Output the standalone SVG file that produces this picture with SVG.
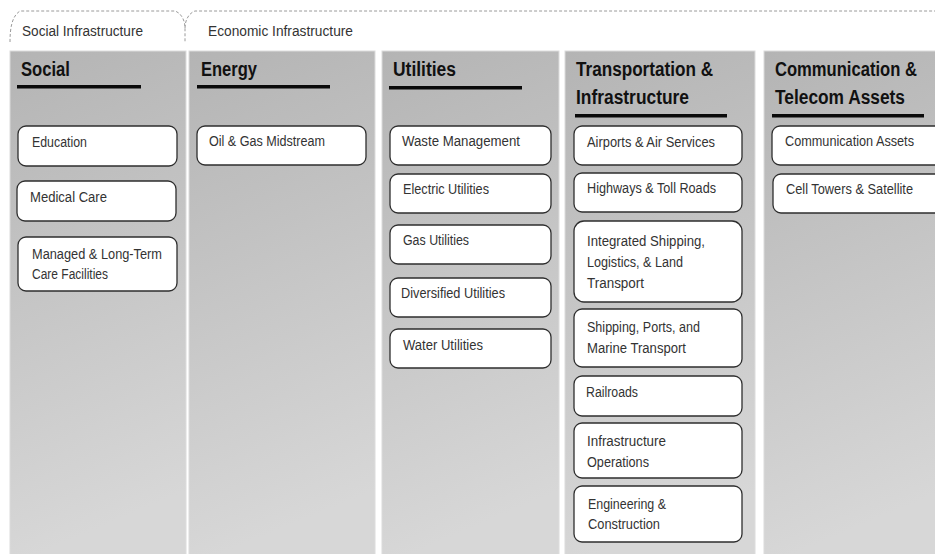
<svg xmlns="http://www.w3.org/2000/svg" width="935" height="554" viewBox="0 0 935 554">
  <defs>
    <linearGradient id="colFill" x1="0" y1="0" x2="0.15" y2="1">
      <stop offset="0" stop-color="#b4b4b4"/>
      <stop offset="1" stop-color="#d7d7d7"/>
    </linearGradient>
    <style>
      .col { fill: url(#colFill); stroke: #dcdcdc; stroke-width: 1; }
      .tab { fill: none; stroke: #9a9a9a; stroke-width: 1; stroke-dasharray: 3 2; }
      .tabtxt { font-family: "Liberation Sans Narrow", "Liberation Sans", Arial, sans-serif; font-size: 14px; fill: #333; }
      .head { font-family: "Liberation Sans Narrow", "Liberation Sans", Arial, sans-serif; font-size: 20px; font-weight: bold; fill: #111; }
      .bar { fill: #0a0a0a; }
      .box { fill: #ffffff; stroke: #2e2e2e; stroke-width: 1.3; }
      .lbl { font-family: "Liberation Sans Narrow", "Liberation Sans", Arial, sans-serif; font-size: 14px; fill: #333; }
    </style>
  </defs>

  <rect width="935" height="554" fill="#ffffff"/>

  <!-- dashed folder tabs along the top -->
  <g id="tabs">
    <path class="tab" d="M10,42 C10,28 12,16 20,11 L175,11 C181,13 185,20 185,28 L185,42"/>
    <path class="tab" d="M185,28 C185,20 189,13 195,11 L935,11"/>
    <text class="tabtxt" x="22" y="36" textLength="121" lengthAdjust="spacingAndGlyphs">Social Infrastructure</text>
    <text class="tabtxt" x="208" y="36" textLength="145" lengthAdjust="spacingAndGlyphs">Economic Infrastructure</text>
  </g>

  <!-- column panels -->
  <g id="col-social">
    <rect class="col" x="10" y="51" width="176" height="504"/>
    <text class="head" x="21" y="76" textLength="49" lengthAdjust="spacingAndGlyphs">Social</text>
    <rect class="bar" x="17" y="85" width="124" height="3.5"/>
  </g>
  <g id="col-energy">
    <rect class="col" x="189" y="51" width="186" height="504"/>
    <text class="head" x="201" y="76" textLength="56" lengthAdjust="spacingAndGlyphs">Energy</text>
    <rect class="bar" x="197" y="85" width="133" height="3.5"/>
  </g>
  <g id="col-utilities">
    <rect class="col" x="382" y="51" width="177" height="504"/>
    <text class="head" x="393" y="76" textLength="63" lengthAdjust="spacingAndGlyphs">Utilities</text>
    <rect class="bar" x="389" y="86" width="133" height="3.5"/>
  </g>
  <g id="col-transport">
    <rect class="col" x="565" y="51" width="190" height="504"/>
    <text class="head" x="576" y="76" textLength="137" lengthAdjust="spacingAndGlyphs">Transportation &amp;</text>
    <text class="head" x="576" y="104" textLength="113" lengthAdjust="spacingAndGlyphs">Infrastructure</text>
    <rect class="bar" x="575" y="114" width="152" height="3.5"/>
  </g>
  <g id="col-telecom">
    <rect class="col" x="764" y="51" width="180" height="504"/>
    <!-- condensed horizontally so the heading stays inside the canvas -->
    <text class="head" transform="translate(775 76) scale(0.83 1)" x="0" y="0">Communication &amp;</text>
    <text class="head" x="775" y="104" textLength="130" lengthAdjust="spacingAndGlyphs">Telecom Assets</text>
    <rect class="bar" x="772" y="114" width="152" height="3.5"/>
  </g>

  <!-- Social -->
  <g id="n-education">
    <rect class="box" x="18" y="126" width="159" height="40" rx="8"/>
    <text class="lbl" x="32" y="147" textLength="55" lengthAdjust="spacingAndGlyphs">Education</text>
  </g>
  <g id="n-medical">
    <rect class="box" x="17" y="181" width="159" height="40" rx="8"/>
    <text class="lbl" x="30" y="202" textLength="77" lengthAdjust="spacingAndGlyphs">Medical Care</text>
  </g>
  <g id="n-managed">
    <rect class="box" x="18" y="237" width="159" height="54" rx="8"/>
    <text class="lbl" x="32" y="259" textLength="130" lengthAdjust="spacingAndGlyphs">Managed &amp; Long-Term</text>
    <text class="lbl" x="32" y="279" textLength="76" lengthAdjust="spacingAndGlyphs">Care Facilities</text>
  </g>

  <!-- Energy -->
  <g id="n-midstream">
    <rect class="box" x="197" y="126" width="169" height="39" rx="8"/>
    <text class="lbl" x="209" y="146" textLength="116" lengthAdjust="spacingAndGlyphs">Oil &amp; Gas Midstream</text>
  </g>

  <!-- Utilities -->
  <g id="n-waste">
    <rect class="box" x="390" y="126" width="161" height="39" rx="8"/>
    <text class="lbl" x="402" y="146" textLength="118" lengthAdjust="spacingAndGlyphs">Waste Management</text>
  </g>
  <g id="n-electric">
    <rect class="box" x="390" y="174" width="161" height="39" rx="8"/>
    <text class="lbl" x="403" y="194" textLength="86" lengthAdjust="spacingAndGlyphs">Electric Utilities</text>
  </g>
  <g id="n-gas">
    <rect class="box" x="390" y="225" width="161" height="39" rx="8"/>
    <text class="lbl" x="403" y="245" textLength="66" lengthAdjust="spacingAndGlyphs">Gas Utilities</text>
  </g>
  <g id="n-diversified">
    <rect class="box" x="390" y="278" width="161" height="39" rx="8"/>
    <text class="lbl" x="401" y="298" textLength="104" lengthAdjust="spacingAndGlyphs">Diversified Utilities</text>
  </g>
  <g id="n-water">
    <rect class="box" x="390" y="329" width="161" height="39" rx="8"/>
    <text class="lbl" x="403" y="350" textLength="80" lengthAdjust="spacingAndGlyphs">Water Utilities</text>
  </g>

  <!-- Transportation & Infrastructure -->
  <g id="n-airports">
    <rect class="box" x="574" y="126" width="168" height="39" rx="8"/>
    <text class="lbl" x="587" y="147" textLength="128" lengthAdjust="spacingAndGlyphs">Airports &amp; Air Services</text>
  </g>
  <g id="n-highways">
    <rect class="box" x="574" y="173" width="168" height="39" rx="8"/>
    <text class="lbl" x="587" y="193" textLength="129" lengthAdjust="spacingAndGlyphs">Highways &amp; Toll Roads</text>
  </g>
  <g id="n-integrated">
    <rect class="box" x="574" y="221" width="168" height="81" rx="10"/>
    <text class="lbl" x="587" y="246" textLength="118" lengthAdjust="spacingAndGlyphs">Integrated Shipping,</text>
    <text class="lbl" x="587" y="267" textLength="96" lengthAdjust="spacingAndGlyphs">Logistics,  &amp; Land</text>
    <text class="lbl" x="587" y="288" textLength="57" lengthAdjust="spacingAndGlyphs">Transport</text>
  </g>
  <g id="n-shipping">
    <rect class="box" x="574" y="309" width="168" height="58" rx="8"/>
    <text class="lbl" x="587" y="332" textLength="113" lengthAdjust="spacingAndGlyphs">Shipping, Ports, and</text>
    <text class="lbl" x="587" y="353" textLength="99" lengthAdjust="spacingAndGlyphs">Marine Transport</text>
  </g>
  <g id="n-railroads">
    <rect class="box" x="574" y="376" width="168" height="40" rx="8"/>
    <text class="lbl" x="586" y="397" textLength="52" lengthAdjust="spacingAndGlyphs">Railroads</text>
  </g>
  <g id="n-operations">
    <rect class="box" x="574" y="423" width="168" height="55" rx="8"/>
    <text class="lbl" x="587" y="446" textLength="79" lengthAdjust="spacingAndGlyphs">Infrastructure</text>
    <text class="lbl" x="587" y="467" textLength="62" lengthAdjust="spacingAndGlyphs">Operations</text>
  </g>
  <g id="n-engineering">
    <rect class="box" x="574" y="486" width="168" height="56" rx="8"/>
    <text class="lbl" x="588" y="509" textLength="78" lengthAdjust="spacingAndGlyphs">Engineering &amp;</text>
    <text class="lbl" x="588" y="529" textLength="72" lengthAdjust="spacingAndGlyphs">Construction</text>
  </g>

  <!-- Communication & Telecom Assets -->
  <g id="n-comm-assets">
    <rect class="box" x="772" y="126" width="180" height="39" rx="8"/>
    <text class="lbl" x="785" y="146" textLength="129" lengthAdjust="spacingAndGlyphs">Communication Assets</text>
  </g>
  <g id="n-towers">
    <rect class="box" x="773" y="174" width="180" height="39" rx="8"/>
    <text class="lbl" x="786" y="194" textLength="127" lengthAdjust="spacingAndGlyphs">Cell Towers &amp; Satellite</text>
  </g>

  <!-- no connectors in this chart -->
  <g id="connectors"/>
</svg>
